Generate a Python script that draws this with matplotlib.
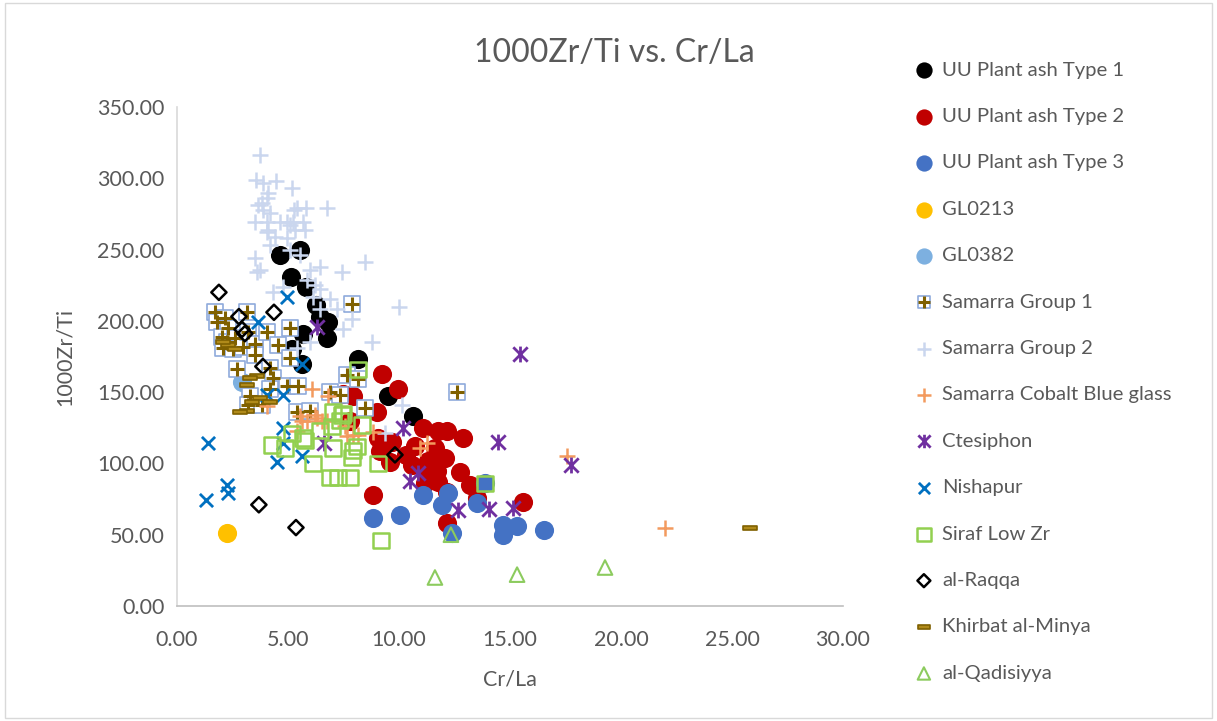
import matplotlib
matplotlib.use("Agg")
import matplotlib.pyplot as plt
from matplotlib.path import Path
from matplotlib.patches import Rectangle

# ---- data (x = Cr/La, y = 1000Zr/Ti) ----
uu1_x = [4.64, 5.54, 5.14, 5.81, 6.26, 6.80, 6.76, 5.68, 5.18, 5.63, 8.15, 9.50, 10.63, 6.44]
uu1_y = [246, 250, 231, 224, 211, 199, 188, 191, 180, 170, 173, 147, 133, 203]

uu2_x = [9.23, 9.95, 7.48, 7.93, 9.01, 7.79, 9.05, 9.14, 9.68, 11.08, 11.76, 12.16, 12.88,
         10.72, 11.62, 12.07, 11.31, 9.59, 11.17, 11.71, 12.75, 13.20, 11.17, 11.76, 8.83,
         12.16, 13.51, 15.59, 12.16, 10.32, 10.59]
uu2_y = [163, 152, 149, 147, 136, 130, 118, 109, 115, 125, 123, 123, 118,
         112, 111, 104, 102, 101, 94, 95, 94, 85, 86, 87, 78,
         80, 76, 73, 58, 106, 99]

uu3_x = [8.83, 10.05, 11.08, 11.94, 12.21, 13.51, 13.87, 14.68, 15.32, 14.68, 16.53, 12.39]
uu3_y = [62, 64, 78, 71, 79, 72, 86, 57, 56, 50, 53, 51]

gl0213_x = [2.25]
gl0213_y = [51]

gl0382_x = [2.93]
gl0382_y = [157]

sam1_x = [1.71, 1.80, 2.16, 2.30, 2.03, 2.25, 2.61, 2.07, 2.52, 2.97, 3.15, 3.20, 3.51, 3.51,
          4.05, 4.55, 5.09, 5.09, 2.70, 4.19, 4.32, 4.19, 4.95, 5.45, 3.29, 3.20, 3.83, 5.41,
          6.89, 7.34, 7.66, 8.15, 5.99, 8.47, 7.88, 12.61]
sam1_y = [206, 199, 202, 195, 189, 185, 188, 181, 180, 182, 206, 192, 184, 176,
          192, 183, 195, 174, 166, 167, 160, 152, 154, 154, 147, 141, 141, 136,
          150, 148, 162, 159, 137, 139, 212, 150]

sam2_x = [3.74, 3.56, 4.46, 5.18, 4.10, 4.05, 3.65, 3.87, 4.19, 5.81, 5.27, 6.76, 3.51, 4.05,
          4.95, 5.23, 5.68, 5.77, 4.10, 3.51, 3.60, 7.43, 8.47, 3.83, 5.41, 4.64, 5.09, 5.32,
          4.05, 4.41, 4.95, 3.74, 5.99, 6.44, 5.86, 6.22, 6.44, 4.77, 4.32, 6.13, 6.44, 7.48,
          7.88, 5.99, 5.41, 8.78, 10.14, 9.37, 10.00, 3.87, 4.19, 5.09, 5.54, 6.89, 7.21]
sam2_y = [316, 299, 298, 293, 290, 286, 281, 278, 276, 279, 278, 279, 269, 269,
          269, 269, 269, 264, 264, 244, 234, 234, 241, 283, 279, 269, 267, 264,
          262, 259, 258, 236, 236, 238, 229, 225, 222, 224, 220, 217, 208, 194,
          201, 185, 181, 185, 141, 121, 210, 297, 253, 250, 246, 215, 208]

cobalt_x = [6.08, 6.80, 6.22, 5.63, 6.53, 7.57, 7.93, 8.15, 8.83, 11.26, 10.95, 4.05, 5.86,
            6.31, 6.76, 7.66, 5.41, 17.57, 21.98, 5.54]
cobalt_y = [152, 147, 134, 130, 130, 126, 120, 120, 122, 114, 111, 140, 130,
            132, 130, 119, 123, 105, 55, 133]

ctes_x = [6.31, 15.45, 10.18, 14.46, 10.86, 10.50, 12.66, 14.05, 15.14, 17.75, 6.62]
ctes_y = [196, 177, 125, 115, 93, 88, 67, 68, 69, 99, 114]

nish_x = [1.40, 1.31, 2.25, 2.30, 4.50, 5.63, 4.77, 4.77, 4.05, 4.77, 4.95, 3.65, 5.63]
nish_y = [114, 74, 85, 79, 101, 105, 125, 114, 148, 148, 217, 199, 170]

siraf_x = [9.19, 13.87, 4.28, 4.86, 5.77, 6.13, 5.18, 7.03, 7.88, 8.11, 6.89, 7.25, 7.79,
           7.43, 7.03, 7.48, 7.34, 8.33, 6.98, 5.68, 7.93, 9.05, 8.15, 6.44]
siraf_y = [46, 86, 113, 111, 116, 100, 121, 111, 104, 112, 90, 90, 90,
           134, 136, 135, 130, 127, 126, 118, 109, 100, 166, 123]

raqqa_x = [1.89, 4.37, 2.79, 2.93, 3.06, 3.87, 3.69, 5.36, 9.82]
raqqa_y = [220, 206, 203, 194, 191, 168, 71, 55, 106]

khirbat_x = [3.60, 3.29, 3.15, 3.74, 3.15, 2.84, 3.38, 2.30, 2.07, 2.61, 4.19, 25.81]
khirbat_y = [161, 160, 155, 146, 137, 136, 143, 183, 185, 180, 143, 55]

qadis_x = [12.34, 11.62, 15.32, 19.28]
qadis_y = [50, 20, 22, 27]

# ---- custom markers ----
star = Path([(-1, -1), (1, 1), (-1, 1), (1, -1), (0, -1.1), (0, 1.1)],
            [Path.MOVETO, Path.LINETO, Path.MOVETO, Path.LINETO, Path.MOVETO, Path.LINETO])
dash = Path([(-1, -0.28), (1, -0.28), (1, 0.28), (-1, 0.28), (-1, -0.28)],
            [Path.MOVETO, Path.LINETO, Path.LINETO, Path.LINETO, Path.CLOSEPOLY])

plt.rcParams['font.family'] = ['Lato', 'DejaVu Sans']
grey = '#595959'

fig = plt.figure(figsize=(12.17, 7.21), dpi=100)
ax = fig.add_axes([0.1454, 0.1595, 0.5473, 0.6921])

handles = []
labels = []

h = ax.scatter(uu1_x, uu1_y, s=190, marker='o', color='black', linewidths=0)
handles.append(h); labels.append('UU Plant ash Type 1')
h = ax.scatter(uu2_x, uu2_y, s=190, marker='o', color='#C00000', linewidths=0)
handles.append(h); labels.append('UU Plant ash Type 2')
h = ax.scatter(uu3_x, uu3_y, s=190, marker='o', color='#4472C4', linewidths=0)
handles.append(h); labels.append('UU Plant ash Type 3')
h = ax.scatter(gl0213_x, gl0213_y, s=190, marker='o', color='#FFC000', linewidths=0)
handles.append(h); labels.append('GL0213')
h = ax.scatter(gl0382_x, gl0382_y, s=190, marker='o', color='#7DB0E0', linewidths=0)
handles.append(h); labels.append('GL0382')

h1 = ax.scatter(sam1_x, sam1_y, s=120, marker='s', facecolors='white',
                edgecolors='#8FAADC', linewidths=1.2)
h2 = ax.scatter(sam1_x, sam1_y, s=90, marker='+', color='#7F6000', linewidths=2.2)
handles.append((h1, h2)); labels.append('Samarra Group 1')

h = ax.scatter(sam2_x, sam2_y, s=140, marker='+', color='#CAD6EE', linewidths=1.8)
handles.append(h); labels.append('Samarra Group 2')
h = ax.scatter(cobalt_x, cobalt_y, s=140, marker='+', color='#F39A5E', linewidths=1.8)
handles.append(h); labels.append('Samarra Cobalt Blue glass')
h = ax.scatter(ctes_x, ctes_y, s=130, marker=star, color='#7030A0', linewidths=2.0)
handles.append(h); labels.append('Ctesiphon')
h = ax.scatter(nish_x, nish_y, s=90, marker='x', color='#0070C0', linewidths=2.0)
handles.append(h); labels.append('Nishapur')
h = ax.scatter(siraf_x, siraf_y, s=125, marker='s', facecolors='none',
               edgecolors='#92D050', linewidths=1.8)
handles.append(h); labels.append('Siraf Low Zr')
h = ax.scatter(raqqa_x, raqqa_y, s=60, marker='D', facecolors='none',
               edgecolors='black', linewidths=1.8)
handles.append(h); labels.append('al-Raqqa')
h = ax.scatter(khirbat_x, khirbat_y, s=110, marker=dash, facecolors='#B08A1A',
               edgecolors='#7F6000', linewidths=1.2)
handles.append(h); labels.append('Khirbat al-Minya')
h = ax.scatter(qadis_x, qadis_y, s=110, marker='^', facecolors='none',
               edgecolors='#8CCB5E', linewidths=1.5)
handles.append(h); labels.append('al-Qadisiyya')

# axes styling, Excel-like
ax.set_xlim(0, 30)
ax.set_ylim(0, 350)
ax.set_xticks(range(0, 31, 5))
ax.set_yticks(range(0, 351, 50))
ax.xaxis.set_major_formatter('{x:.2f}')
ax.yaxis.set_major_formatter('{x:.2f}')
ax.tick_params(length=0, labelsize=15.5, colors=grey)
ax.tick_params(axis='y', pad=9)
ax.tick_params(axis='x', pad=17)
for side in ['top', 'right']:
    ax.spines[side].set_visible(False)
ax.spines['left'].set_color('#D9D9D9')
ax.spines['bottom'].set_color('#BFBFBF')
ax.spines['left'].set_linewidth(1.2)
ax.spines['bottom'].set_linewidth(1.2)

ax.set_xlabel('Cr/La', fontsize=15.5, color=grey, labelpad=14)
ax.set_ylabel('1000Zr/Ti', fontsize=15.5, color=grey, labelpad=16)
fig.text(0.5045, 0.926, '1000Zr/Ti vs. Cr/La', fontsize=23, color=grey,
         ha='center', va='center')

leg = fig.legend(handles, labels, loc='upper left', bbox_to_anchor=(0.745, 0.926),
                 frameon=False, fontsize=14.6, labelcolor=grey, handlelength=0.9,
                 handletextpad=0.45, labelspacing=1.44, scatterpoints=1,
                 markerscale=0.85, borderaxespad=0)

# light chart-area border
fig.patches.append(Rectangle((0.004, 0.004), 0.992, 0.992, transform=fig.transFigure,
                             fill=False, edgecolor='#D9D9D9', linewidth=1))

fig.savefig('out.png', dpi=100)
